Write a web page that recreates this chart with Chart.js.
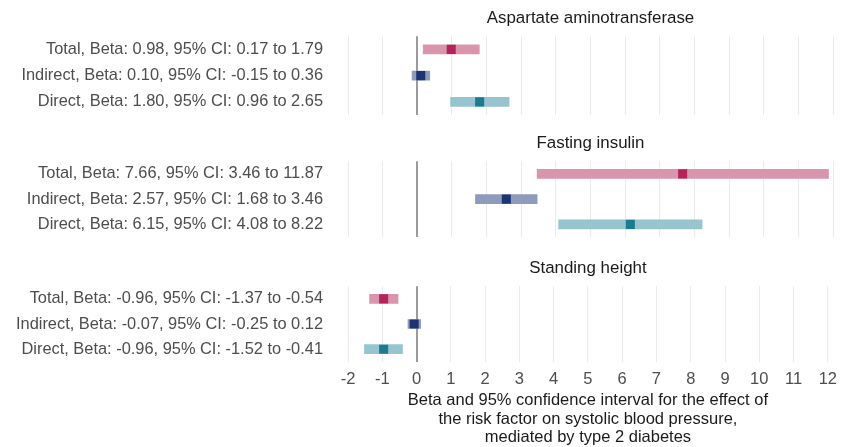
<!DOCTYPE html>
<html>
<head>
<meta charset="utf-8">
<script src="https://cdn.jsdelivr.net/npm/chart.js@4/dist/chart.umd.min.js"></script>
<style>
  body { margin: 0; background: #fff; }
  .panel { position: absolute; left: 0; width: 845px; }
</style>
</head>
<body>
<div class="panel" style="top:0px;height:118px"><canvas id="c0"></canvas></div>
<div class="panel" style="top:125px;height:115px"><canvas id="c1"></canvas></div>
<div class="panel" style="top:250px;height:197px"><canvas id="c2"></canvas></div>
<script>
// data
const panelTitles = ["Aspartate aminotransferase", "Fasting insulin", "Standing height"];
const effects = ["Total", "Indirect", "Direct"];
const beta  = [[0.98, 0.10, 1.80], [7.66, 2.57, 6.15], [-0.96, -0.07, -0.96]];
const ciLow = [[0.17, -0.15, 0.96], [3.46, 1.68, 4.08], [-1.37, -0.25, -1.52]];
const ciHigh = [[1.79, 0.36, 2.65], [11.87, 3.46, 8.22], [-0.54, 0.12, -0.41]];
const xMin = -2, xMax = 12;

const ciColors = ["#d995ac", "#8e9bbd", "#96c5d0"];
const pointColors = ["#b5235b", "#1c3472", "#1b7c8f"];
const FONT = "'Liberation Sans', Arial, sans-serif";

function makeLabel(p, i) {
  return effects[i] + ", Beta: " + beta[p][i].toFixed(2) + ", 95% CI: " +
    ciLow[p][i].toFixed(2) + " to " + ciHigh[p][i].toFixed(2);
}

function drawPanel(p) {
  const labels = effects.map((e, i) => makeLabel(p, i));
  const last = p === 2;
  new Chart("c" + p, {
    type: "bar",
    data: {
      labels: labels,
      datasets: [
        {
          type: "line",
          data: labels.map((l, i) => ({x: beta[p][i], y: l})),
          showLine: false,
          pointStyle: "rect",
          pointRadius: 6.4,
          pointBorderWidth: 0,
          pointBackgroundColor: pointColors,
          pointBorderColor: pointColors,
          order: 0
        },
        {
          data: labels.map((l, i) => [ciLow[p][i], ciHigh[p][i]]),
          backgroundColor: ciColors,
          barThickness: 9,
          borderSkipped: false,
          order: 1
        }
      ]
    },
    options: {
      indexAxis: "y",
      responsive: true,
      maintainAspectRatio: false,
      animation: false,
      layout: { autoPadding: false, padding: { left: 0, right: 12, top: 0, bottom: last ? 0 : 3 } },
      plugins: {
        legend: { display: false },
        tooltip: { enabled: false },
        title: {
          display: true,
          text: panelTitles[p],
          fullSize: false,
          color: "#1a1a1a",
          font: { family: FONT, size: 16.9, weight: "normal" },
          padding: { top: 8, bottom: 8 }
        }
      },
      scales: {
        x: {
          type: "linear",
          min: xMin,
          max: xMax,
          border: { display: false },
          grid: {
            drawTicks: false,
            color: c => c.tick && c.tick.value === 0 ? "#9a9a9a" : "#ebebeb",
            lineWidth: c => c.tick && c.tick.value === 0 ? 2 : 1
          },
          ticks: {
            display: last,
            stepSize: 1,
            padding: last ? 8 : 0,
            color: "#4d4d4d",
            font: { family: FONT, size: 16.5 }
          },
          title: {
            display: last,
            text: ["Beta and 95% confidence interval for the effect of",
                   "the risk factor on systolic blood pressure,",
                   "mediated by type 2 diabetes"],
            color: "#1a1a1a",
            font: { family: FONT, size: 16.5, lineHeight: 1.12 },
            padding: { top: -6, bottom: 0 }
          }
        },
        y: {
          border: { display: false },
          grid: { display: false },
          ticks: {
            autoSkip: false,
            padding: 17,
            color: "#4d4d4d",
            font: { family: FONT, size: 16.4 }
          },
          afterFit: s => { s.width = 348; s.paddingTop = 0; s.paddingBottom = 0; }
        }
      }
    }
  });
}

for (let p = 0; p < 3; p++) drawPanel(p);
</script>
</body>
</html>
